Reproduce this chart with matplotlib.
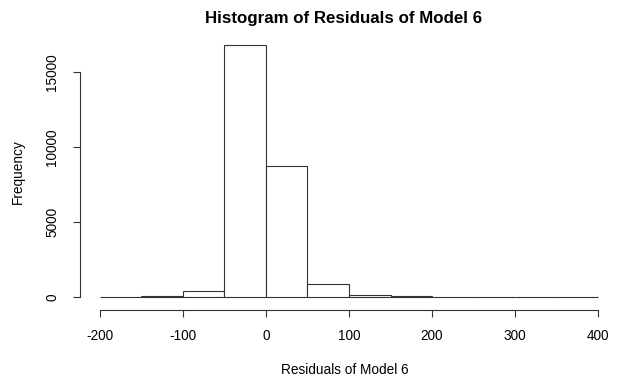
import numpy as np
import matplotlib.pyplot as plt

plt.rcParams['font.family'] = ['Liberation Sans', 'DejaVu Sans']
plt.rcParams['axes.unicode_minus'] = False

# residual histogram, 50-wide bins
bin_edges = [-200, -150, -100, -50, 0, 50, 100, 150, 200, 250, 300, 350, 400]
counts = [6, 30, 400, 16780, 8710, 830, 110, 40, 12, 6, 4, 3]

W, H, DPI = 621, 386, 100
fig = plt.figure(figsize=(W / DPI, H / DPI), dpi=DPI)

# plot region in pixels (left, top, right, bottom)
L, T, R, B = 80, 35, 618, 307
ax = fig.add_axes([L / W, 1 - B / H, (R - L) / W, (B - T) / H])

widths = np.diff(bin_edges)
ax.bar(bin_edges[:-1], counts, width=widths, align='edge',
       facecolor='white', edgecolor='#333333', linewidth=0.8)

ymax = max(counts)
ax.set_xlim(-200 - 0.04 * 600, 400 + 0.04 * 600)
ax.set_ylim(-0.04 * ymax, 1.04 * ymax)

ax.set_xticks([-200, -100, 0, 100, 200, 300, 400])
ax.set_yticks([0, 5000, 10000, 15000])
ax.tick_params(axis='both', length=5, width=0.8, pad=9, labelsize=9.8, color='#333333')
ax.tick_params(axis='y', pad=10)
for lab in ax.get_yticklabels():
    lab.set_rotation(90)
    lab.set_va('center')

for s in ['top', 'right']:
    ax.spines[s].set_visible(False)
ax.spines['bottom'].set_bounds(-200, 400)
ax.spines['left'].set_bounds(0, 15000)
ax.spines['bottom'].set_position(('outward', 2))
for s in ['bottom', 'left']:
    ax.spines[s].set_linewidth(0.8)
    ax.spines[s].set_color('#333333')

fig.text(344 / W, 1 - 18 / H, 'Histogram of Residuals of Model 6',
         ha='center', va='center', fontsize=12.2, fontweight='bold')
fig.text(345 / W, 1 - 370 / H, 'Residuals of Model 6',
         ha='center', va='center', fontsize=9.8)
fig.text(18 / W, 1 - 172 / H, 'Frequency', rotation=90,
         ha='center', va='center', fontsize=9.8)

fig.savefig('out.png', dpi=DPI)
